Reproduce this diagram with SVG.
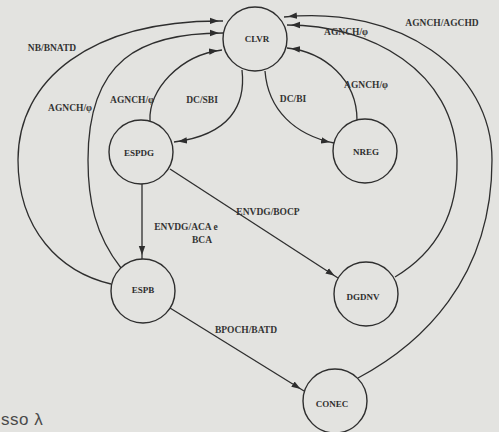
<svg xmlns="http://www.w3.org/2000/svg" width="499" height="432" viewBox="0 0 499 432">
  <style>
    .node circle { fill: none; stroke: #2e2e2e; stroke-width: 1.4; }
    .node text { font-family: "Liberation Serif", serif; font-size: 9px; font-weight: bold; fill: #2e2e2e; text-anchor: middle; }
    .edge { fill: none; stroke: #2e2e2e; stroke-width: 1.3; marker-end: url(#arrow); }
    .lbl { font-family: "Liberation Serif", serif; font-size: 9.5px; font-weight: bold; fill: #333; text-anchor: middle; }
  </style>
  <defs>
    <marker id="arrow" viewBox="0 0 14 8" refX="13" refY="4" markerWidth="14" markerHeight="8" markerUnits="userSpaceOnUse" orient="auto">
      <path d="M0,0.8 L9,4 L0,7.2 Z" fill="#2e2e2e"/>
    </marker>
  </defs>

  <rect x="0" y="0" width="499" height="432" fill="#e3e3e0"/>

  <!-- transitions -->
  <g id="connectors">
    <!-- ESPB -> CLVR : NB/BNATD -->
    <path class="edge" d="M111,284 C60,272 18,230 18,160 C18,80 90,20 223,21"/>
    <!-- ESPB -> CLVR : AGNCH/φ -->
    <path class="edge" d="M121,268 C95,235 88,200 88,160 C88,60 140,33 223,33"/>
    <!-- ESPDG -> CLVR : AGNCH/φ -->
    <path class="edge" d="M150,121 C148,90 180,55 222,50"/>
    <!-- CLVR -> ESPDG : DC/SBI -->
    <path class="edge" d="M242,70 C246,105 230,135 174,142"/>
    <!-- CLVR -> NREG : DC/BI -->
    <path class="edge" d="M265,71 C268,110 295,135 334,143"/>
    <!-- NREG -> CLVR : AGNCH/φ -->
    <path class="edge" d="M357,120 C357,80 325,52 287,48"/>
    <!-- DGDNV -> CLVR : AGNCH/φ -->
    <path class="edge" d="M395,277 C440,250 458,210 457,160 C455,70 370,25 287,25"/>
    <!-- CONEC -> CLVR : AGNCH/AGCHD -->
    <path class="edge" d="M358,378 C420,345 492,280 492,160 C492,70 400,5 284,17"/>
    <!-- ESPDG -> ESPB : ENVDG/ACA e BCA -->
    <path class="edge" d="M142,184 L142,259"/>
    <!-- ESPDG -> DGDNV : ENVDG/BOCP -->
    <path class="edge" d="M170,169 L338,278"/>
    <!-- ESPB -> CONEC : BPOCH/BATD -->
    <path class="edge" d="M170,308 L304,391"/>

    <text class="lbl" x="52" y="51">NB/BNATD</text>
    <text class="lbl" x="70" y="111">AGNCH/φ</text>
    <text class="lbl" x="132" y="103">AGNCH/φ</text>
    <text class="lbl" x="202" y="103">DC/SBI</text>
    <text class="lbl" x="293" y="102">DC/BI</text>
    <text class="lbl" x="366" y="88">AGNCH/φ</text>
    <text class="lbl" x="346" y="35">AGNCH/φ</text>
    <text class="lbl" x="442" y="26">AGNCH/AGCHD</text>
    <text class="lbl" x="186" y="230">ENVDG/ACA e</text>
    <text class="lbl" x="202" y="243">BCA</text>
    <text class="lbl" x="268" y="215">ENVDG/BOCP</text>
    <text class="lbl" x="246" y="333">BPOCH/BATD</text>
  </g>

  <!-- states -->
  <g id="CLVR" class="node"><circle cx="255" cy="39" r="32"/><text x="257" y="42">CLVR</text></g>
  <g id="ESPDG" class="node"><circle cx="141" cy="152" r="32"/><text x="139" y="156">ESPDG</text></g>
  <g id="NREG" class="node"><circle cx="365" cy="151" r="32"/><text x="366" y="155">NREG</text></g>
  <g id="ESPB" class="node"><circle cx="143" cy="291" r="32"/><text x="143" y="293">ESPB</text></g>
  <g id="DGDNV" class="node"><circle cx="366" cy="294" r="32"/><text x="363" y="300">DGDNV</text></g>
  <g id="CONEC" class="node"><circle cx="335" cy="401" r="32"/><text x="332" y="407">CONEC</text></g>

  <text x="1" y="425" font-family="'Liberation Sans', sans-serif" font-size="17" letter-spacing="0.5" fill="#4a4a4a">sso λ</text>
</svg>
